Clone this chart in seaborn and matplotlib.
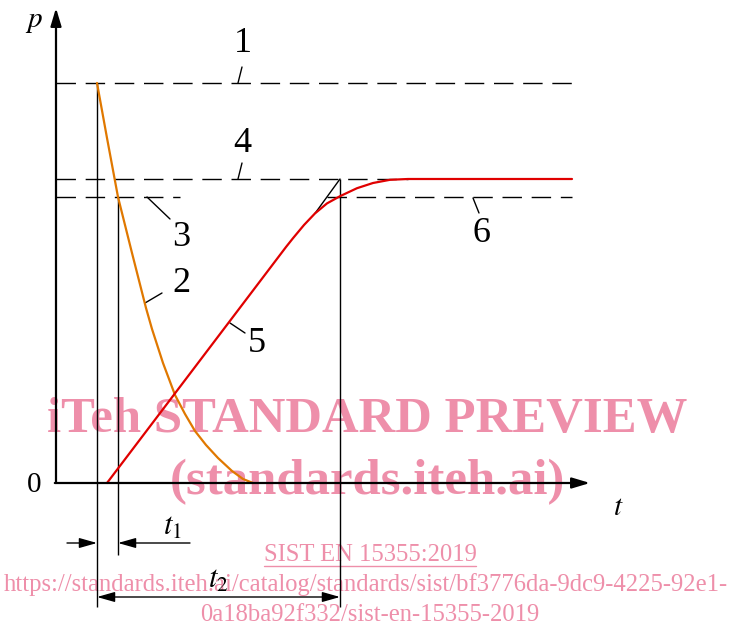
import matplotlib
matplotlib.use('Agg')
import pandas as pd
import seaborn as sns
from matplotlib import pyplot as plt

# pressure levels (percent of the peak) and times
P_MAX = 100.0      # line 1
P_FINAL = 76.0     # line 4
P_LIMIT = 71.5     # lines 3 and 6
T_START = 10.25
T1_END = 15.5
T2_END = 71.0
T_END = 129.0
T_AXIS = 133.5
P_AXIS = 118.75

# curve 2 (orange, falling)
drop_t = [10.25, 12.75, 15.5, 19.0, 22.5, 24.0, 26.75, 29.75, 32.25, 34.75,
          37.5, 40.5, 44.0, 46.75, 49.25]
drop_p = [100.0, 86.25, 71.5, 57.5, 43.75, 38.5, 30.0, 22.0, 17.25, 13.0,
          9.5, 6.25, 3.0, 1.0, 0.0]

# curve 5 (red, rising)
rise_t = [12.75, 57.5, 59.25, 62.0, 64.75, 67.75, 71.0, 75.25, 79.25, 83.5, 88.0, 129.0]
rise_p = [0.0, 59.0, 61.2, 64.5, 67.4, 69.9, 71.7, 73.7, 75.0, 75.8, 76.0, 76.0]

labels = ['1', '2', '3', '4', '5', '6']
label_xy = [(46.75, 109.75), (31.25, 50.0), (31.25, 61.5), (46.5, 85.0),
            (50.25, 34.75), (106.5, 62.5)]
leaders = [((45.5, 100.0), (46.5, 104.0)), ((22.25, 45.0), (26.5, 47.5)),
           ((22.75, 71.5), (28.5, 66.0)), ((45.5, 76.0), (46.5, 80.0)),
           ((43.5, 40.0), (47.25, 37.5)), ((104.25, 71.25), (105.75, 67.5))]

sns.set_theme(style='white')
plt.rcParams['font.family'] = ['Liberation Serif', 'DejaVu Serif']
plt.rcParams['mathtext.fontset'] = 'stix'

fig = plt.figure(figsize=(7.32, 6.32), dpi=100)
ax = fig.add_axes([0, 0, 1, 1])
ax.set_xlim(-14, 169)
ax.set_ylim(-37.25, 120.75)
ax.axis('off')

pink = '#EE8FAA'
ink = '#000000'

# watermark (under the drawing)
ax.text(77.75, 12.75, 'iTeh STANDARD PREVIEW', fontsize=36.5, fontweight='bold',
        color=pink, ha='center', va='baseline', zorder=1)
ax.text(77.75, -2.75, '(standards.iteh.ai)', fontsize=36.5, fontweight='bold',
        color=pink, ha='center', va='baseline', zorder=1)
sist = ax.text(78.5, -19.5, 'SIST EN 15355:2019', fontsize=17.7, color=pink,
               ha='center', va='baseline', zorder=1)
ax.text(77.5, -27.0,
        'https://standards.iteh.ai/catalog/standards/sist/bf3776da-9dc9-4225-92e1-',
        fontsize=17.7, color=pink, ha='center', va='baseline', zorder=1)
ax.text(78.5, -34.5, '0a18ba92f332/sist-en-15355-2019', fontsize=17.7,
        color=pink, ha='center', va='baseline', zorder=1)

# dashed reference levels
dash = dict(color=ink, lw=1.0, linestyle=(0, (14, 7)), zorder=2)
ax.hlines(P_MAX, 0, T_END, **dash)
ax.hlines(P_FINAL, 0, 88.0, **dash)
ax.hlines(P_LIMIT, 0, 31.0, **dash)
ax.hlines(P_LIMIT, 67.75, T_END, **dash)

# construction lines
thin = dict(color=ink, lw=1.0, zorder=2)
ax.vlines(T_START, -31.0, P_MAX, **thin)
ax.vlines(T1_END, -18.0, P_LIMIT, **thin)
ax.vlines(T2_END, -31.0, P_FINAL, **thin)
ax.plot([rise_t[4], T2_END], [rise_p[4], P_FINAL], **thin)

# curves
drop_df = pd.DataFrame({'t': drop_t, 'p': drop_p})
rise_df = pd.DataFrame({'t': rise_t, 'p': rise_p})
sns.lineplot(data=drop_df, x='t', y='p', color='#E07800', lw=1.6,
             estimator=None, sort=False, ax=ax, zorder=4)
sns.lineplot(data=rise_df, x='t', y='p', color='#E00000', lw=1.6,
             estimator=None, sort=False, ax=ax, zorder=4)
ax.axis('off')

# axes with arrow heads
axis_arrow = dict(arrowstyle='-|>,head_length=0.6,head_width=0.18', color=ink,
                  lw=1.6, shrinkA=0, shrinkB=0, mutation_scale=18)
ax.annotate('', xy=(T_AXIS, 0), xytext=(-0.3, 0), arrowprops=axis_arrow, zorder=5)
ax.annotate('', xy=(0, P_AXIS), xytext=(0, 0), arrowprops=axis_arrow, zorder=5)

# dimension arrows for t1 and t2
dim_arrow = dict(arrowstyle='-|>,head_length=0.6,head_width=0.17', color=ink,
                 lw=1.0, shrinkA=0, shrinkB=0, mutation_scale=18)
ax.annotate('', xy=(T_START, -15.0), xytext=(2.75, -15.0), arrowprops=dim_arrow)
ax.annotate('', xy=(T1_END, -15.0), xytext=(33.5, -15.0), arrowprops=dim_arrow)
both = dict(dim_arrow, arrowstyle='<|-|>,head_length=0.6,head_width=0.17')
ax.annotate('', xy=(T2_END, -28.5), xytext=(T_START, -28.5), arrowprops=both)

# numbered callouts
for lab, (x, y), (a, b) in zip(labels, label_xy, leaders):
    ax.plot([a[0], b[0]], [a[1], b[1]], color=ink, lw=1.0, zorder=3)
    ax.text(x, y, lab, fontsize=26, ha='center', va='center', color=ink, zorder=6)

ax.text(-5.5, 115.25, '$p$', fontsize=21, ha='center', va='center', color=ink)
ax.text(-5.5, -0.5, '0', fontsize=21, ha='center', va='center', color=ink)
ax.text(140.5, -6.25, '$t$', fontsize=21, ha='center', va='center', color=ink)
ax.text(29.0, -11.0, '$t_1$', fontsize=22, ha='center', va='center', color=ink)
ax.text(40.5, -24.25, '$t_2$', fontsize=22, ha='center', va='center', color=ink)

# underline the standard number
fig.canvas.draw()
bb = sist.get_window_extent().transformed(ax.transData.inverted())
ax.plot([bb.x0, bb.x1], [bb.y0 - 0.1, bb.y0 - 0.1], color=pink, lw=1.0, zorder=1)

plt.savefig('out.png', dpi=100)
